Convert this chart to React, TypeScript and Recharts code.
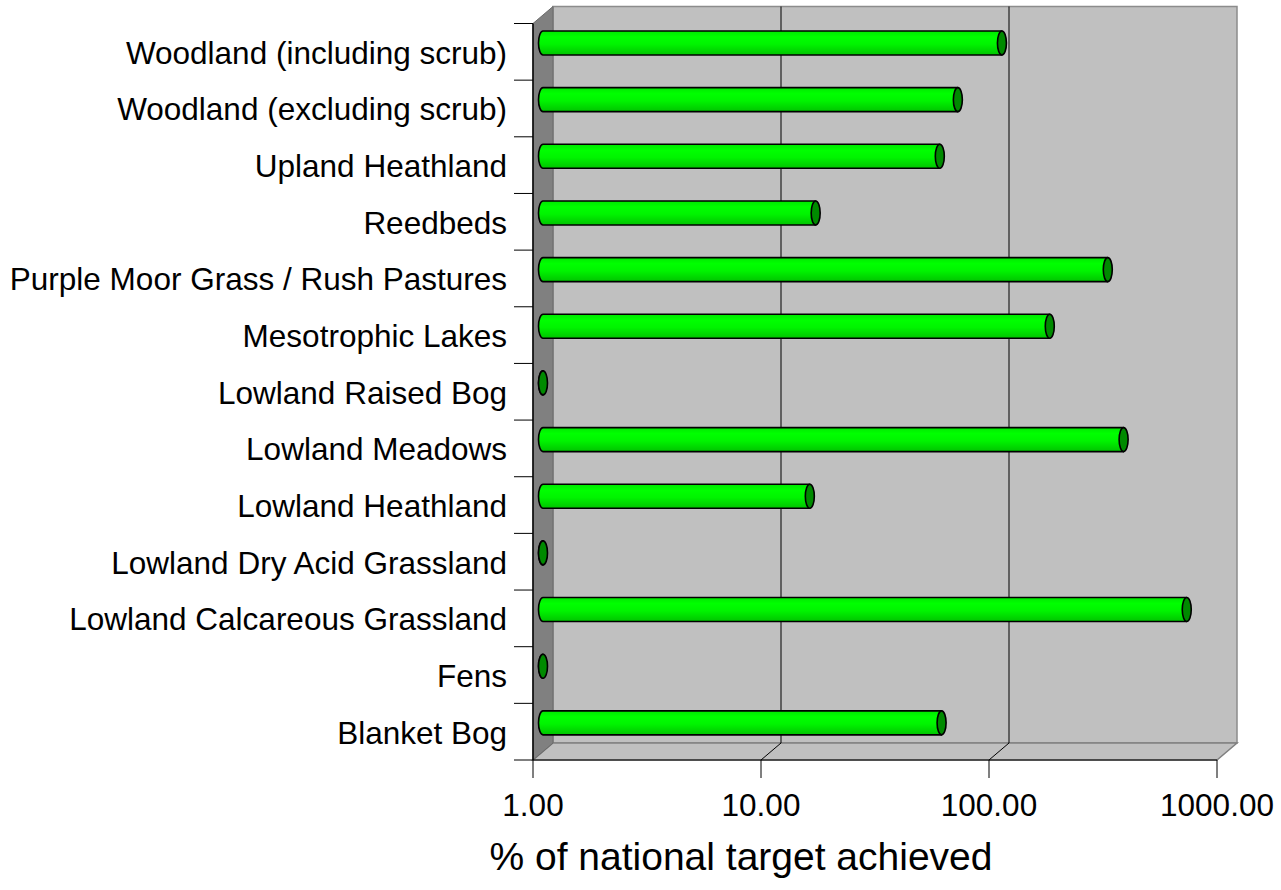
import React from 'react';
import { BarChart, Bar, XAxis, YAxis, ReferenceArea, ReferenceLine } from 'recharts';

// Habitat categories, top to bottom
const habitats = [
  'Woodland (including scrub)',
  'Woodland (excluding scrub)',
  'Upland Heathland',
  'Reedbeds',
  'Purple Moor Grass / Rush Pastures',
  'Mesotrophic Lakes',
  'Lowland Raised Bog',
  'Lowland Meadows',
  'Lowland Heathland',
  'Lowland Dry Acid Grassland',
  'Lowland Calcareous Grassland',
  'Fens',
  'Blanket Bog',
];

// % of national target achieved (log scale, 1 = axis floor)
const achieved = [103, 66, 55, 15.7, 300, 167, 1, 352, 14.8, 1, 666, 1, 56];

const xTicks = [1, 10, 100, 1000];
const xTickLabels = ['1.00', '10.00', '100.00', '1000.00'];
const gridValues = [10, 100];

const data = habitats.map((name, i) => ({ name, value: achieved[i] }));

// 3D box depth (back wall offset from the front plane)
const DEPTH_X = 20;
const DEPTH_Y = 17;
const CAP_RX = 4.5;
const FONT = 'Arial, "Liberation Sans", Helvetica, sans-serif';
const LABEL_SIZE = 31.5;

const CHART_W = 1281;
const CHART_H = 890;
const MARGIN = { top: 23.5, right: 64, bottom: 70, left: 0 };
const Y_AXIS_W = 533;
const X_AXIS_H = 60;
const BAND_HALF = (CHART_H - MARGIN.top - MARGIN.bottom - X_AXIS_H) / habitats.length / 2;

const Walls = (props: any) => {
  const { x, y, width, height } = props;
  const b = y + height;
  const r = x + width;
  return (
    <g>
      <defs>
        <linearGradient id="cylGrad" x1="0" y1="0" x2="0" y2="1">
          <stop offset="0%" stopColor="#00e800" />
          <stop offset="25%" stopColor="#00ff00" />
          <stop offset="55%" stopColor="#00f400" />
          <stop offset="100%" stopColor="#00c400" />
        </linearGradient>
      </defs>
      {/* back wall */}
      <rect x={x + DEPTH_X} y={y - DEPTH_Y} width={width} height={height} fill="#c0c0c0" stroke="#8c8c8c" strokeWidth={1.5} />
      {/* floor */}
      <polygon
        points={`${x},${b} ${r},${b} ${r + DEPTH_X},${b - DEPTH_Y} ${x + DEPTH_X},${b - DEPTH_Y}`}
        fill="#c0c0c0"
        stroke="#808080"
        strokeWidth={1.5}
      />
      {/* left wall */}
      <polygon
        points={`${x},${y} ${x + DEPTH_X},${y - DEPTH_Y} ${x + DEPTH_X},${b - DEPTH_Y} ${x},${b}`}
        fill="#808080"
        stroke="#6a6a6a"
        strokeWidth={1}
      />
    </g>
  );
};

const GridShape = (props: any) => {
  const { x1, y1, y2 } = props;
  const top = Math.min(y1, y2);
  const bot = Math.max(y1, y2);
  return (
    <g>
      <line x1={x1 + DEPTH_X} y1={top - DEPTH_Y} x2={x1 + DEPTH_X} y2={bot - DEPTH_Y} stroke="#000" strokeWidth={1} />
      <line x1={x1} y1={bot} x2={x1 + DEPTH_X} y2={bot - DEPTH_Y} stroke="#000" strokeWidth={1} />
    </g>
  );
};

const Cylinder = (props: any) => {
  const { x, y, width, height } = props;
  if (x == null || y == null) return null;
  const cx0 = x + DEPTH_X / 2;
  const cx1 = x + width + DEPTH_X / 2;
  const top = y - DEPTH_Y / 2;
  const bot = top + height;
  const ry = height / 2;
  const cy = top + ry;
  const body = `M${cx0},${top} L${cx1},${top} L${cx1},${bot} L${cx0},${bot} A${CAP_RX},${ry} 0 0 1 ${cx0},${top} Z`;
  return (
    <g>
      <path d={body} fill="url(#cylGrad)" stroke="#000" strokeWidth={1.6} strokeLinejoin="round" />
      <ellipse cx={cx1} cy={cy} rx={CAP_RX} ry={ry} fill="#008a00" stroke="#000" strokeWidth={1.6} />
    </g>
  );
};

const CategoryTick = (props: any) => {
  const { y, payload, index } = props;
  const axisX = Y_AXIS_W + MARGIN.left;
  const isLast = index === habitats.length - 1;
  return (
    <g>
      <line x1={axisX - 19} y1={y - BAND_HALF} x2={axisX} y2={y - BAND_HALF} stroke="#000" strokeWidth={1} />
      {isLast && <line x1={axisX - 19} y1={y + BAND_HALF} x2={axisX} y2={y + BAND_HALF} stroke="#000" strokeWidth={1} />}
      <text x={axisX - 26} y={y + 12} textAnchor="end" fontFamily={FONT} fontSize={LABEL_SIZE} fill="#000">
        {payload.value}
      </text>
    </g>
  );
};

const ValueTick = (props: any) => {
  const { x, payload } = props;
  const idx = xTicks.indexOf(payload.value);
  const label = idx >= 0 ? xTickLabels[idx] : String(payload.value);
  const axisY = CHART_H - MARGIN.bottom - X_AXIS_H;
  return (
    <text x={x} y={axisY + 56} textAnchor="middle" fontFamily={FONT} fontSize={LABEL_SIZE} fill="#000">
      {label}
    </text>
  );
};

const AxisTitle = (props: any) => {
  const vb = props.viewBox || {};
  return (
    <text x={vb.x + 208} y={vb.y + 110} textAnchor="middle" fontFamily={FONT} fontSize={39} fill="#000">
      % of national target achieved
    </text>
  );
};

export default function App() {
  return (
    <div style={{ position: 'absolute', left: 0, top: 0, background: '#fff' }}>
      <BarChart width={CHART_W} height={CHART_H} data={data} layout="vertical" margin={MARGIN} barCategoryGap={0}>
        <ReferenceArea x1={1} x2={1000} ifOverflow="visible" shape={Walls} zIndex={-200} />
        {gridValues.map((v) => (
          <ReferenceLine key={v} x={v} ifOverflow="visible" shape={GridShape} zIndex={-150} />
        ))}
        <XAxis
          type="number"
          dataKey="value"
          scale="log"
          domain={[1, 1000]}
          allowDataOverflow
          ticks={xTicks}
          height={X_AXIS_H}
          axisLine={{ stroke: '#000', strokeWidth: 1.2 }}
          tickLine={{ stroke: '#000', strokeWidth: 1 }}
          tickSize={18}
          tick={<ValueTick />}
          interval={0}
          label={<AxisTitle />}
        />
        <YAxis
          type="category"
          dataKey="name"
          width={Y_AXIS_W}
          axisLine={{ stroke: '#000', strokeWidth: 1.5 }}
          tickLine={false}
          tick={<CategoryTick />}
          interval={0}
        />
        <Bar dataKey="value" barSize={24} shape={Cylinder} isAnimationActive={false} />
      </BarChart>
    </div>
  );
}
